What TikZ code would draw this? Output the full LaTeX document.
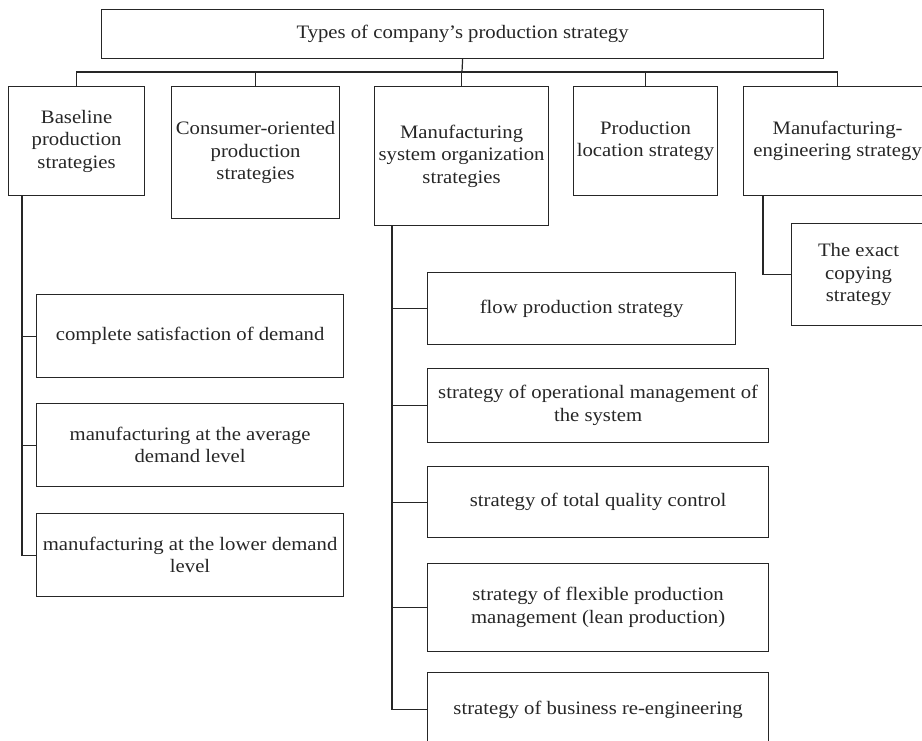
\documentclass[tikz,border=0pt]{standalone}
\usepackage{fontspec}
\setmainfont{Liberation Serif}[FakeStretch=1.09]
\begin{document}
\begin{tikzpicture}[x=1pt, y=-1pt, line width=1.2pt,
  box/.style={draw=black!85, anchor=north west, inner sep=0pt, align=center,
    text=black!85, font=\fontsize{19}{22.5}\selectfont},
  link/.style={draw=black!85}]
\useasboundingbox (0,0) rectangle (922,741);
\clip (0,0) rectangle (922,741);
\node [box, minimum width=722pt, minimum height=49pt] (top) at (101,9) {Types of company’s production strategy};
\node [box, minimum width=136pt, minimum height=109pt] (base) at (8,86) {Baseline\\production\\strategies};
\node [box, minimum width=168pt, minimum height=132pt] (cons) at (171,86) {Consumer-oriented\\production\\strategies};
\node [box, minimum width=174pt, minimum height=139pt] (msys) at (374,86) {Manufacturing\\system organization\\strategies};
\node [box, minimum width=144pt, minimum height=109pt] (loc) at (573,86) {Production\\location strategy};
\node [box, minimum width=188pt, minimum height=109pt] (eng) at (743,86) {Manufacturing-\\engineering strategy};
\node [box, minimum width=134pt, minimum height=102pt] (copy) at (791,223) {The exact\\copying\\strategy};
\node [box, minimum width=307pt, minimum height=83pt] (dem1) at (36,294) {complete satisfaction of demand};
\node [box, minimum width=307pt, minimum height=83pt] (dem2) at (36,403) {manufacturing at the average\\demand level};
\node [box, minimum width=307pt, minimum height=83pt] (dem3) at (36,513) {manufacturing at the lower demand\\level};
\node [box, minimum width=308pt, minimum height=72pt] (org1) at (427,272) {flow production strategy};
\node [box, minimum width=341pt, minimum height=74pt] (org2) at (427,368) {strategy of operational management of\\the system};
\node [box, minimum width=341pt, minimum height=71pt] (org3) at (427,466) {strategy of total quality control};
\node [box, minimum width=341pt, minimum height=88pt] (org4) at (427,563) {strategy of flexible production\\management (lean production)};
\node [box, minimum width=341pt, minimum height=74pt] (org5) at (427,672) {strategy of business re-engineering};
\coordinate (bus) at (462,72);
\draw [link] (top.south) -- (bus);
\foreach \n in {base,cons,msys,loc,eng}
  \draw [link] (bus) -| (\n.north);
\foreach \n in {dem1,dem2,dem3}
  \draw [link] ([xshift=14pt]base.south west) |- (\n.west);
\foreach \n in {org1,org2,org3,org4,org5}
  \draw [link] ([xshift=18pt]msys.south west) |- (\n.west);
\draw [link] ([xshift=20pt]eng.south west) |- (copy.west);
\end{tikzpicture}
\end{document}
